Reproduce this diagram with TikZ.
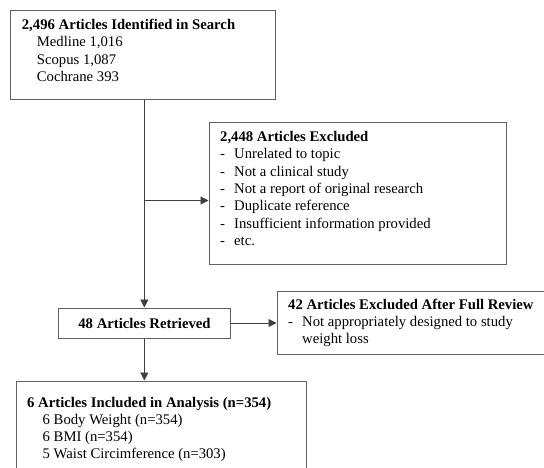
\documentclass[tikz,border=0pt]{standalone}
\usepackage{fontspec}
\setmainfont{Liberation Serif}
\usetikzlibrary{arrows.meta}
\newcommand{\ind}[1]{\hspace*{#1}}
\newcommand{\dsh}{\makebox[14pt][l]{-}}
\begin{document}
\begin{tikzpicture}[x=1pt,y=-1pt,
  box/.style={draw=black!62,line width=1pt,rectangle,inner sep=0pt},
  txt/.style={inner sep=0pt,anchor=base west,font=\fontsize{14.7}{17.3}\selectfont},
  conn/.style={draw=black!75,line width=0.9pt},
  arr/.style={conn,-{Triangle[length=8pt,width=8pt]}}]
\useasboundingbox (0,0) rectangle (544,467);
\clip (0,0) rectangle (544,467);
% boxes
\node[box,minimum width=265.7pt,minimum height=89pt] (b1) at (142.85,54.5) {};
\node[box,minimum width=297pt,minimum height=141.5pt] (b2) at (357.5,193.25) {};
\node[box,minimum width=172.7pt,minimum height=30pt] (b3) at (144.35,323) {};
\node[box,minimum width=283pt,minimum height=63pt] (b4) at (418.5,322.5) {};
\node[box,minimum width=289.3pt,minimum height=99pt] (b5) at (161.35,430.5) {};
% texts
\node[txt] (t1) at (21.7,29.5) {\begin{tabular}[t]{@{}l@{}}
  \textbf{2,496 Articles Identified in Search}\\
  \ind{15pt}Medline 1,016\\
  \ind{15pt}Scopus 1,087\\
  \ind{15pt}Cochrane 393\end{tabular}};
\node[txt] (t2) at (220,141.5) {\begin{tabular}[t]{@{}l@{}}
  \textbf{2,448 Articles Excluded}\\
  \dsh Unrelated to topic\\
  \dsh Not a clinical study\\
  \dsh Not a report of original research\\
  \dsh Duplicate reference\\
  \dsh Insufficient information provided\\
  \dsh etc.\end{tabular}};
\node[txt,anchor=base] (t3) at (144.5,328) {\textbf{48 Articles Retrieved}};
\node[txt] (t4) at (288,309) {\begin{tabular}[t]{@{}l@{}}
  \textbf{42 Articles Excluded After Full Review}\\
  \dsh Not appropriately designed to study\\
  \ind{14pt}weight loss\end{tabular}};
\node[txt] (t5) at (27,407) {\begin{tabular}[t]{@{}l@{}}
  \textbf{6 Articles Included in Analysis (n=354)}\\
  \ind{15.5pt}6 Body Weight (n=354)\\
  \ind{15.5pt}6 BMI (n=354)\\
  \ind{15.5pt}5 Waist Circimference (n=303)\end{tabular}};
% connectors
\coordinate (j) at (144.35,200.5);
\draw[arr] (b1.south -| b3.north) -- (b3.north);
\draw[arr] (j) -- (j -| b2.west);
\draw[arr] (b3.east) -- (b3.east -| b4.west);
\draw[arr] (b3.south) -- (b3.south |- b5.north);
\end{tikzpicture}
\end{document}
